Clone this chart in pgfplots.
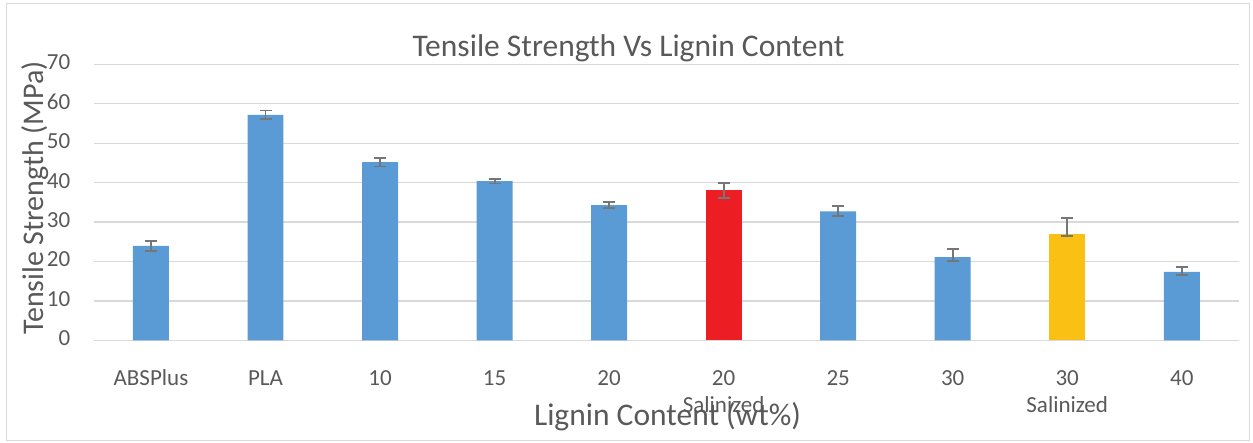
\documentclass[border=0pt]{standalone}
\usepackage{pgfplots}
\pgfplotsset{compat=1.18}
\usepackage{pgfplotstable}
\usepackage{fontspec}
\setmainfont{Carlito}
\definecolor{barblue}{RGB}{91,155,213}
\definecolor{barred}{RGB}{237,29,36}
\definecolor{baryel}{RGB}{251,192,20}
\definecolor{txt}{RGB}{89,89,89}
\definecolor{gridc}{RGB}{217,217,217}
\definecolor{errc}{RGB}{118,118,118}

\pgfplotstableread{
x y ep em
0 24.0 1.3 1.3
1 57.2 1.1 1.1
2 45.2 1.1 1.1
3 40.4 0.6 0.6
4 34.3 0.8 0.7
6 32.7 1.3 1.1
7 21.1 2.2 0.9
9 17.4 1.3 0.9
}\bluedata
\pgfplotstableread{
x y ep em
5 38.2 1.8 2.0
}\reddata
\pgfplotstableread{
x y ep em
8 27.0 4.0 0.5
}\yeldata

\begin{document}
\begin{tikzpicture}[x=1pt,y=1pt]
\useasboundingbox (0,0) rectangle (1253,443);
\draw[gridc, line width=1.2pt] (6.5,2.5) rectangle (1249.5,439.5);
\begin{axis}[
  at={(93.7pt,102.5pt)}, anchor=south west,
  scale only axis, width=1145.3pt, height=276.2pt,
  xmin=-0.5, xmax=9.5, ymin=0, ymax=70,
  ytick={0,10,...,70},
  xtick={0,...,9},
  xticklabels={ABSPlus, PLA, 10, 15, 20, {20\\Salinized}, 25, 30, {30\\Salinized}, 40},
  typeset ticklabels with strut,
  /pgf/number format/assume math mode=true,
  ymajorgrids,
  major grid style={gridc, line width=1.3pt},
  axis line style={draw=none},
  tick style={draw=none},
  xticklabel style={font=\fontsize{23}{27}\selectfont, color=txt, align=center, anchor=north, inner sep=0pt, yshift=-21.6pt},
  yticklabel style={font=\fontsize{23}{27}\selectfont, color=txt, anchor=east, inner sep=0pt, xshift=-23.2pt},
  title={Tensile Strength Vs Lignin Content},
  every axis title/.style={at={(axis description cs:0.467,1)}, anchor=base, yshift=7.5pt, font=\fontsize{31.5}{37}\selectfont, color=txt},
  xlabel={Lignin Content (wt\%)},
  every axis x label/.style={at={(axis description cs:0.501,0)}, anchor=base, yshift=-85pt, font=\fontsize{31.5}{37}\selectfont, color=txt},
  ylabel={Tensile Strength (MPa)},
  every axis y label/.style={at={(axis description cs:-0.04427,0.516)}, rotate=90, anchor=base, font=\fontsize{30}{36}\selectfont, color=txt},
  ybar, bar width=0.314, bar shift=0pt,
  clip=false,
  error bars/y dir=both, error bars/y explicit,
  error bars/error bar style={errc, line width=1.9pt},
  error bars/error mark options={rotate=90, mark size=6pt, line width=1.9pt, errc},
]
\addplot[fill=barblue, draw=none] table[x=x, y=y, y error plus=ep, y error minus=em] {\bluedata};
\addplot[fill=barred, draw=none] table[x=x, y=y, y error plus=ep, y error minus=em] {\reddata};
\addplot[fill=baryel, draw=none] table[x=x, y=y, y error plus=ep, y error minus=em] {\yeldata};
\end{axis}
\end{tikzpicture}
\end{document}
